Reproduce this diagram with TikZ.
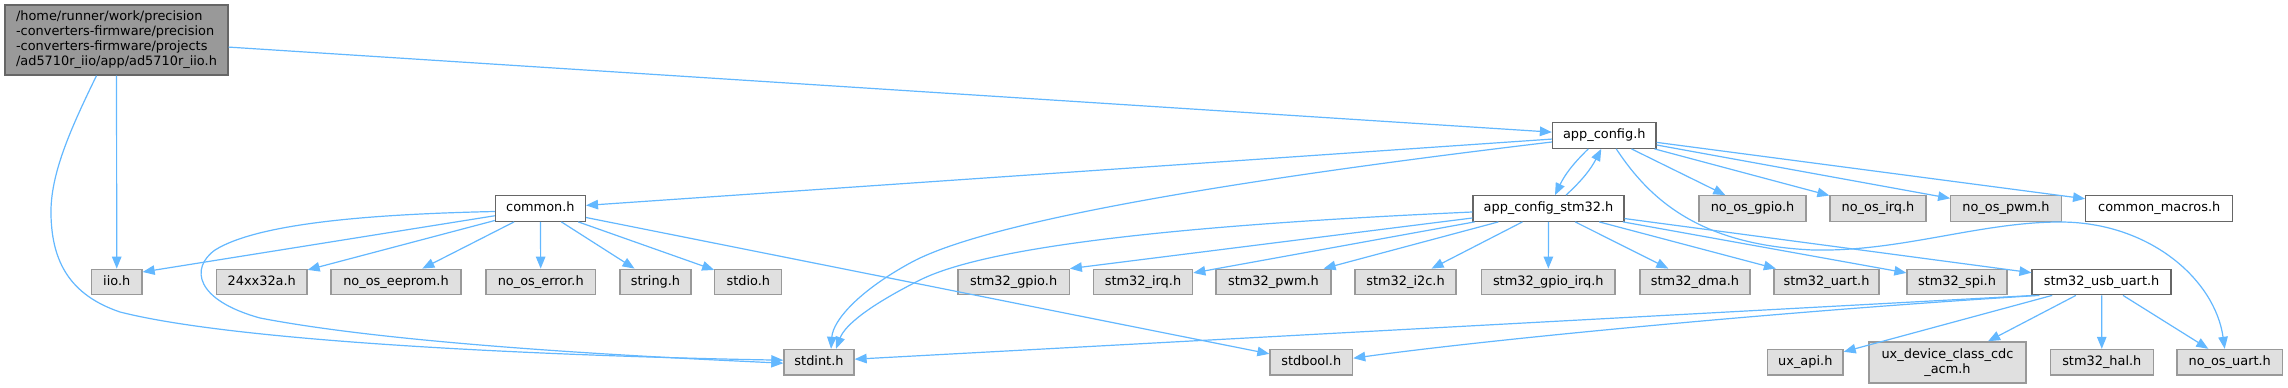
\documentclass[tikz,border=0pt]{standalone}
\usepackage{fontspec}
\setmainfont{DejaVu Sans}
\usetikzlibrary{arrows.meta}
\definecolor{edgec}{HTML}{63B8FF}
\definecolor{gfill}{HTML}{E0E0E0}
\definecolor{gdraw}{HTML}{999999}
\definecolor{wdraw}{HTML}{666666}
\definecolor{mfill}{HTML}{999999}
\begin{document}
\begin{tikzpicture}[x=1pt,y=-1pt,
  every node/.style={font=\fontsize{12.9pt}{15pt}\selectfont},
  nd/.style={rectangle, line width=1.3pt, inner sep=0pt, minimum height=25.5pt, text height=9.5pt, text depth=3pt},
  gnode/.style={nd, fill=gfill, draw=gdraw},
  wnode/.style={nd, fill=white, draw=wdraw},
  mnode/.style={rectangle, line width=1.3pt, inner sep=0pt, fill=mfill, draw=wdraw},
  edge/.style={draw=edgec, line width=1.2pt, -{Triangle[length=12pt,width=9.5pt]}}]
\fill[white] (0,0) rectangle (2288,388);
\useasboundingbox (0,0) rectangle (2288,388);

% nodes
\node[mnode, minimum width=223pt, minimum height=70pt, align=left] (main) at (116.5,40)
  {/home/runner/work/precision\\-converters-firmware/precision\\-converters-firmware/projects\\/ad5710r\_iio/app/ad5710r\_iio.h};
\node[wnode, minimum width=103.5pt] (appcfg) at (1604.25,135.5) {app\_config.h};

\node[wnode, minimum width=90pt] (common) at (540.4,208.5) {common.h};
\node[wnode, minimum width=151pt] (stm32cfg) at (1548.5,208.5) {app\_config\_stm32.h};
\node[gnode, minimum width=107pt] (nogpio) at (1752.5,208.5) {no\_os\_gpio.h};
\node[gnode, minimum width=96pt] (noirq) at (1878,208.5) {no\_os\_irq.h};
\node[gnode, minimum width=110.5pt] (nopwm) at (2006,208.5) {no\_os\_pwm.h};
\node[wnode, minimum width=147pt] (macros) at (2159.2,208.5) {common\_macros.h};

\node[gnode, minimum width=50.5pt] (iio) at (116.75,282) {iio.h};
\node[gnode, minimum width=90.5pt] (x24) at (261.75,282) {24xx32a.h};
\node[gnode, minimum width=130pt] (eeprom) at (396,282) {no\_os\_eeprom.h};
\node[gnode, minimum width=109.5pt] (noerror) at (540.75,282) {no\_os\_error.h};
\node[gnode, minimum width=71pt] (string) at (655.5,282) {string.h};
\node[gnode, minimum width=67pt] (stdio) at (748.3,282) {stdio.h};
\node[gnode, minimum width=111.3pt] (sgpio) at (1013.6,282) {stm32\_gpio.h};
\node[gnode, minimum width=99.4pt] (sirq) at (1143,282) {stm32\_irq.h};
\node[gnode, minimum width=115pt] (spwm) at (1273.5,282) {stm32\_pwm.h};
\node[gnode, minimum width=101pt] (si2c) at (1405.5,282) {stm32\_i2c.h};
\node[gnode, minimum width=133.5pt] (sgirq) at (1548.3,282) {stm32\_gpio\_irq.h};
\node[gnode, minimum width=110pt] (sdma) at (1695,282) {stm32\_dma.h};
\node[gnode, minimum width=105pt] (suart) at (1826.5,282) {stm32\_uart.h};
\node[gnode, minimum width=100pt] (sspi) at (1957,282) {stm32\_spi.h};
\node[wnode, minimum width=139pt] (usbuart) at (2101.6,282) {stm32\_usb\_uart.h};

\node[gnode, minimum width=70pt] (stdint) at (819,362.2) {stdint.h};
\node[gnode, minimum width=82.6pt] (stdbool) at (1311.3,362.2) {stdbool.h};
\node[gnode, minimum width=75.5pt] (uxapi) at (1805.3,362.2) {ux\_api.h};
\node[rectangle, line width=1.3pt, inner sep=0pt, fill=gfill, draw=gdraw, minimum width=157pt, minimum height=41pt, align=center] (cdc) at (1947.5,362.4) {ux\_device\_class\_cdc\\\_acm.h};
\node[gnode, minimum width=103pt] (hal) at (2101.8,362.2) {stm32\_hal.h};
\node[gnode, minimum width=105.3pt] (nouart) at (2229.7,362.2) {no\_os\_uart.h};

% main edges
\draw[edge] (main) -- (appcfg);
\draw[edge] (main) -- (iio);
\draw[edge] ([xshift=-20pt]main.south) .. controls (70,130) and (50,175) .. (51,215)
  .. controls (52,262) and (70,295) .. (120,312)
  .. controls (250,345) and (600,357) .. ([yshift=2pt]stdint.west);

% app_config edges
\draw[edge] (appcfg) -- (common);
\draw[edge] ([yshift=-6.5pt]appcfg.west) .. controls (1300,172) and (1000,215) .. (912,262)
  .. controls (860,290) and (833,320) .. ([xshift=12pt]stdint.north);
\draw[edge] ([xshift=-16pt]appcfg.south) to[bend right=10] ([xshift=6.5pt]stm32cfg.north);
\draw[edge] ([xshift=17.5pt]stm32cfg.north) to[bend right=10] ([xshift=-3pt]appcfg.south);
\draw[edge] (appcfg) -- (nogpio);
\draw[edge] (appcfg) -- (noirq);
\draw[edge] (appcfg) -- (nopwm);
\draw[edge] (appcfg) -- (macros);
\draw[edge] ([xshift=12pt]appcfg.south) .. controls (1650,200) and (1700,245) .. (1813,250)
  .. controls (1900,252) and (1980,222) .. (2060,222)
  .. controls (2150,222) and (2215,280) .. ([xshift=-5pt]nouart.north);

% common edges
\draw[edge] (common) -- ([yshift=10pt]iio.east);
\draw[edge] ([yshift=-3pt]common.west) .. controls (380,214) and (260,222) .. (215,250)
  .. controls (190,268) and (195,300) .. (260,318)
  .. controls (400,345) and (650,357) .. ([yshift=-1pt]stdint.west);
\draw[edge] (common) -- (x24);
\draw[edge] (common) -- (eeprom);
\draw[edge] (common) -- (noerror);
\draw[edge] (common) -- (string);
\draw[edge] (common) -- (stdio);
\draw[edge] (common) -- (stdbool);

% app_config_stm32 edges
\draw[edge] ([yshift=-3.5pt]stm32cfg.west) .. controls (1250,222) and (1000,240) .. (920,280)
  .. controls (870,305) and (845,325) .. ([xshift=17pt]stdint.north);
\draw[edge] (stm32cfg) -- (sgpio.north east);
\draw[edge] (stm32cfg) -- (sirq);
\draw[edge] (stm32cfg) -- (spwm);
\draw[edge] (stm32cfg) -- (si2c);
\draw[edge] (stm32cfg) -- (sgirq);
\draw[edge] (stm32cfg) -- (sdma);
\draw[edge] (stm32cfg) -- (suart);
\draw[edge] (stm32cfg) -- (sspi);
\draw[edge] (stm32cfg) -- (usbuart);

% stm32_usb_uart edges
\draw[edge] ([xshift=3pt]usbuart.south west) -- ([yshift=3pt]stdint.east);
\draw[edge] ([xshift=8pt]usbuart.south west) .. controls (1800,310) and (1500,338) .. ([yshift=4pt]stdbool.east);
\draw[edge] (usbuart) -- (uxapi);
\draw[edge] (usbuart) -- (cdc);
\draw[edge] (usbuart) -- (hal);
\draw[edge] (usbuart) -- (nouart);
\end{tikzpicture}
\end{document}
